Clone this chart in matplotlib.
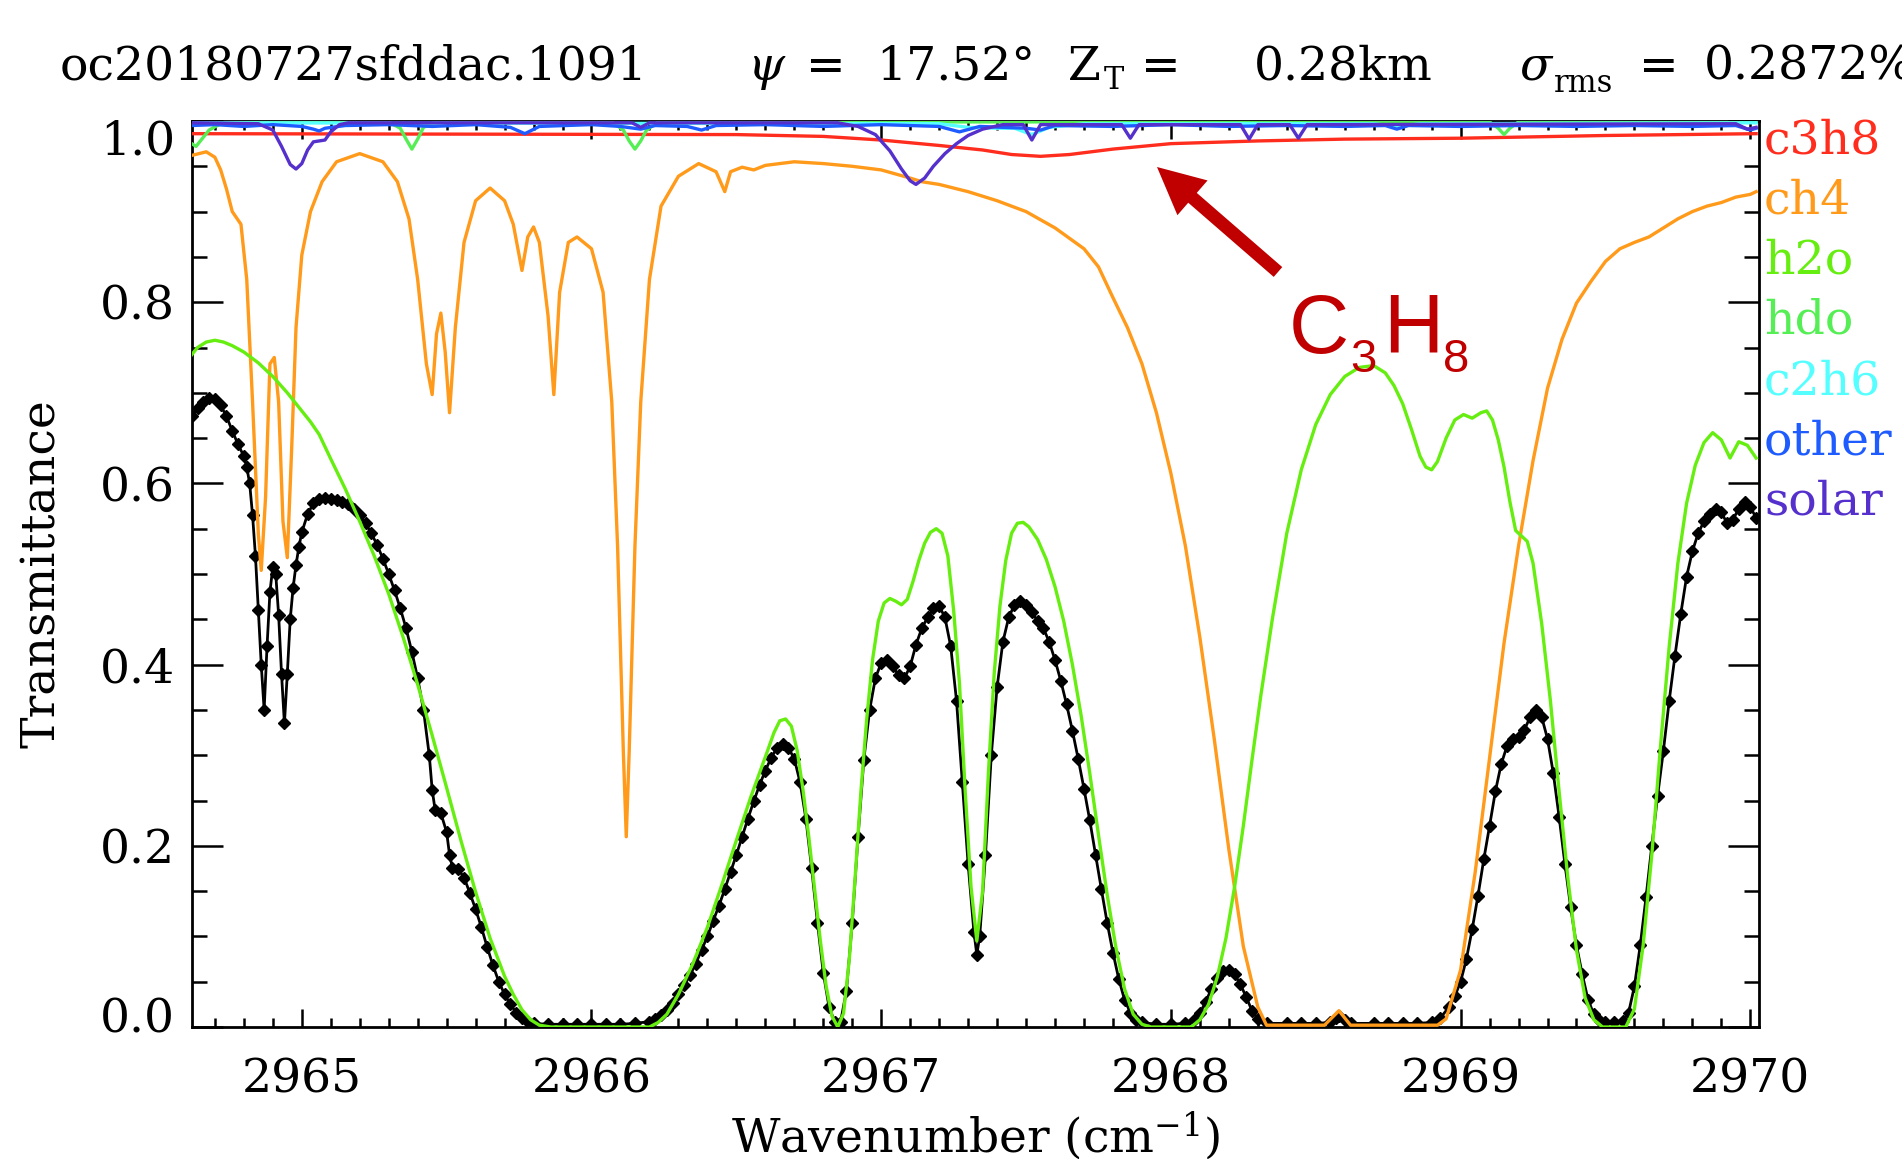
import matplotlib
matplotlib.use("Agg")
import matplotlib.pyplot as plt
import numpy as np
from matplotlib.ticker import MultipleLocator
from matplotlib.patches import FancyArrowPatch
from matplotlib.transforms import ScaledTranslation

# ---- data ----
# measured spectrum (black diamonds)
obs_wn = [2964.62, 2964.64, 2964.66, 2964.68, 2964.70, 2964.72, 2964.74, 2964.76, 2964.78, 2964.80,
          2964.81, 2964.82, 2964.83, 2964.84, 2964.85, 2964.86, 2964.87, 2964.88, 2964.89, 2964.90,
          2964.91, 2964.92, 2964.93, 2964.94, 2964.95, 2964.96, 2964.97, 2964.98, 2964.99, 2965.00,
          2965.02, 2965.04, 2965.06, 2965.08, 2965.10, 2965.12, 2965.14, 2965.16, 2965.18, 2965.20,
          2965.22, 2965.24, 2965.26, 2965.28, 2965.30, 2965.32, 2965.34, 2965.36, 2965.38, 2965.40,
          2965.42, 2965.44, 2965.45, 2965.46, 2965.48, 2965.50, 2965.51, 2965.52, 2965.54, 2965.56,
          2965.58, 2965.60, 2965.62, 2965.64, 2965.66, 2965.68, 2965.70, 2965.72, 2965.74, 2965.76,
          2965.78, 2965.80, 2965.85, 2965.90, 2965.95, 2966.00, 2966.05, 2966.10, 2966.15, 2966.20,
          2966.22, 2966.24, 2966.26, 2966.28, 2966.30, 2966.32, 2966.34, 2966.36, 2966.38, 2966.40,
          2966.42, 2966.44, 2966.46, 2966.48, 2966.50, 2966.52, 2966.54, 2966.56, 2966.58, 2966.60,
          2966.62, 2966.64, 2966.66, 2966.68, 2966.70, 2966.72, 2966.74, 2966.76, 2966.78, 2966.80,
          2966.82, 2966.84, 2966.85, 2966.86, 2966.88, 2966.90, 2966.92, 2966.94, 2966.96, 2966.98,
          2967.00, 2967.02, 2967.04, 2967.06, 2967.08, 2967.10, 2967.12, 2967.14, 2967.16, 2967.18,
          2967.20, 2967.22, 2967.24, 2967.26, 2967.28, 2967.30, 2967.32, 2967.33, 2967.34, 2967.36,
          2967.38, 2967.40, 2967.42, 2967.44, 2967.46, 2967.48, 2967.50, 2967.52, 2967.54, 2967.56,
          2967.58, 2967.60, 2967.62, 2967.64, 2967.66, 2967.68, 2967.70, 2967.72, 2967.74, 2967.76,
          2967.78, 2967.80, 2967.82, 2967.84, 2967.86, 2967.88, 2967.90, 2967.95, 2968.00, 2968.05,
          2968.08, 2968.10, 2968.12, 2968.14, 2968.16, 2968.18, 2968.20, 2968.22, 2968.24, 2968.26,
          2968.28, 2968.30, 2968.33, 2968.40, 2968.45, 2968.50, 2968.55, 2968.57, 2968.58, 2968.60,
          2968.62, 2968.70, 2968.75, 2968.80, 2968.85, 2968.90, 2968.93, 2968.96, 2968.98, 2969.00,
          2969.02, 2969.04, 2969.06, 2969.08, 2969.10, 2969.12, 2969.14, 2969.16, 2969.18, 2969.20,
          2969.22, 2969.24, 2969.26, 2969.28, 2969.30, 2969.32, 2969.34, 2969.36, 2969.38, 2969.40,
          2969.42, 2969.44, 2969.46, 2969.48, 2969.50, 2969.53, 2969.56, 2969.58, 2969.60, 2969.62,
          2969.64, 2969.66, 2969.68, 2969.70, 2969.72, 2969.74, 2969.76, 2969.78, 2969.80, 2969.82,
          2969.84, 2969.86, 2969.88, 2969.90, 2969.92, 2969.94, 2969.96, 2969.98, 2970.00, 2970.02]
obs_tr = [0.674, 0.683, 0.690, 0.694, 0.693, 0.686, 0.674, 0.658, 0.643, 0.630,
          0.618, 0.600, 0.565, 0.520, 0.460, 0.400, 0.350, 0.420, 0.480, 0.508,
          0.500, 0.455, 0.390, 0.335, 0.390, 0.450, 0.485, 0.510, 0.530, 0.546,
          0.566, 0.578, 0.583, 0.584, 0.583, 0.582, 0.580, 0.577, 0.572, 0.565,
          0.556, 0.545, 0.532, 0.517, 0.500, 0.482, 0.462, 0.440, 0.414, 0.385,
          0.350, 0.300, 0.262, 0.240, 0.236, 0.215, 0.190, 0.176, 0.174, 0.165,
          0.148, 0.130, 0.110, 0.088, 0.068, 0.050, 0.036, 0.025, 0.016, 0.010,
          0.006, 0.004, 0.003, 0.003, 0.003, 0.003, 0.003, 0.003, 0.004, 0.006,
          0.009, 0.013, 0.019, 0.026, 0.036, 0.046, 0.057, 0.070, 0.085, 0.100,
          0.117, 0.134, 0.152, 0.171, 0.190, 0.210, 0.230, 0.249, 0.267, 0.283,
          0.297, 0.308, 0.312, 0.308, 0.296, 0.270, 0.230, 0.175, 0.115, 0.060,
          0.022, 0.005, 0.002, 0.006, 0.040, 0.115, 0.210, 0.295, 0.350, 0.385,
          0.402, 0.405, 0.398, 0.388, 0.385, 0.398, 0.422, 0.440, 0.452, 0.462,
          0.465, 0.452, 0.420, 0.360, 0.270, 0.180, 0.105, 0.080, 0.100, 0.190,
          0.300, 0.375, 0.425, 0.452, 0.466, 0.470, 0.466, 0.458, 0.448, 0.440,
          0.425, 0.405, 0.382, 0.356, 0.327, 0.296, 0.263, 0.228, 0.190, 0.152,
          0.115, 0.082, 0.053, 0.030, 0.016, 0.008, 0.005, 0.003, 0.003, 0.004,
          0.008, 0.015, 0.028, 0.042, 0.054, 0.062, 0.063, 0.058, 0.047, 0.033,
          0.018, 0.009, 0.004, 0.004, 0.004, 0.004, 0.005, 0.010, 0.012, 0.008,
          0.004, 0.004, 0.004, 0.004, 0.004, 0.005, 0.010, 0.022, 0.034, 0.050,
          0.075, 0.108, 0.145, 0.185, 0.222, 0.260, 0.290, 0.310, 0.318, 0.320,
          0.328, 0.342, 0.350, 0.342, 0.318, 0.280, 0.232, 0.180, 0.132, 0.090,
          0.058, 0.030, 0.014, 0.007, 0.005, 0.005, 0.007, 0.016, 0.045, 0.090,
          0.143, 0.200, 0.255, 0.305, 0.360, 0.410, 0.456, 0.497, 0.525, 0.545,
          0.558, 0.566, 0.572, 0.568, 0.556, 0.560, 0.572, 0.580, 0.574, 0.562]

# h2o transmittance
h2o_wn = [2964.62, 2964.64, 2964.67, 2964.70, 2964.73, 2964.76, 2964.80, 2964.85, 2964.90, 2964.95,
          2965.00, 2965.03, 2965.06, 2965.10, 2965.15, 2965.20, 2965.25, 2965.30, 2965.35, 2965.40,
          2965.45, 2965.50, 2965.55, 2965.60, 2965.65, 2965.70, 2965.73, 2965.76, 2965.79, 2965.82,
          2965.86, 2966.20, 2966.23, 2966.26, 2966.30, 2966.35, 2966.40, 2966.45, 2966.50, 2966.55,
          2966.60, 2966.63, 2966.65, 2966.67, 2966.69, 2966.71, 2966.73, 2966.75, 2966.77, 2966.79,
          2966.81, 2966.83, 2966.85, 2966.87, 2966.89, 2966.91, 2966.93, 2966.95, 2966.97, 2966.99,
          2967.01, 2967.03, 2967.05, 2967.07, 2967.09, 2967.11, 2967.13, 2967.15, 2967.17, 2967.19,
          2967.21, 2967.23, 2967.25, 2967.27, 2967.29, 2967.31, 2967.33, 2967.35, 2967.37, 2967.39,
          2967.41, 2967.43, 2967.45, 2967.47, 2967.49, 2967.51, 2967.54, 2967.57, 2967.60, 2967.63,
          2967.66, 2967.69, 2967.72, 2967.75, 2967.78, 2967.81, 2967.84, 2967.87, 2967.90, 2967.93,
          2968.07, 2968.10, 2968.13, 2968.16, 2968.19, 2968.22, 2968.25, 2968.28, 2968.31, 2968.35,
          2968.40, 2968.45, 2968.50, 2968.55, 2968.60, 2968.65, 2968.70, 2968.74, 2968.77, 2968.80,
          2968.83, 2968.86, 2968.88, 2968.90, 2968.92, 2968.95, 2968.98, 2969.01, 2969.04, 2969.07,
          2969.09, 2969.11, 2969.13, 2969.15, 2969.17, 2969.19, 2969.21, 2969.23, 2969.25, 2969.28,
          2969.31, 2969.34, 2969.37, 2969.40, 2969.43, 2969.46, 2969.49, 2969.57, 2969.60, 2969.63,
          2969.66, 2969.69, 2969.72, 2969.75, 2969.78, 2969.81, 2969.84, 2969.87, 2969.90, 2969.93,
          2969.96, 2969.99, 2970.02]
h2o_tr = [0.742, 0.750, 0.756, 0.758, 0.756, 0.752, 0.745, 0.733, 0.718, 0.700,
          0.680, 0.668, 0.654, 0.627, 0.594, 0.558, 0.520, 0.478, 0.430, 0.378,
          0.322, 0.264, 0.205, 0.149, 0.098, 0.056, 0.036, 0.019, 0.008, 0.002,
          0.000, 0.000, 0.005, 0.014, 0.036, 0.070, 0.110, 0.157, 0.206, 0.254,
          0.298, 0.325, 0.338, 0.340, 0.332, 0.305, 0.262, 0.210, 0.152, 0.095,
          0.045, 0.012, 0.000, 0.015, 0.075, 0.165, 0.260, 0.340, 0.405, 0.448,
          0.468, 0.473, 0.470, 0.466, 0.472, 0.492, 0.515, 0.534, 0.546, 0.550,
          0.545, 0.520, 0.460, 0.380, 0.260, 0.155, 0.095, 0.150, 0.280, 0.390,
          0.465, 0.515, 0.545, 0.556, 0.557, 0.552, 0.538, 0.516, 0.486, 0.448,
          0.400, 0.344, 0.280, 0.212, 0.146, 0.088, 0.042, 0.014, 0.003, 0.000,
          0.000, 0.008, 0.025, 0.055, 0.098, 0.155, 0.222, 0.295, 0.365, 0.450,
          0.545, 0.615, 0.665, 0.698, 0.718, 0.728, 0.730, 0.722, 0.708, 0.688,
          0.660, 0.630, 0.618, 0.615, 0.624, 0.650, 0.670, 0.676, 0.672, 0.678,
          0.680, 0.670, 0.648, 0.618, 0.580, 0.548, 0.542, 0.536, 0.512, 0.445,
          0.360, 0.260, 0.165, 0.085, 0.032, 0.008, 0.000, 0.000, 0.020, 0.090,
          0.190, 0.310, 0.420, 0.512, 0.578, 0.620, 0.645, 0.656, 0.648, 0.628,
          0.646, 0.642, 0.628]

# ch4 transmittance
ch4_wn = [2964.62, 2964.67, 2964.70, 2964.72, 2964.74, 2964.76, 2964.79, 2964.81, 2964.83, 2964.85,
          2964.86, 2964.875, 2964.89, 2964.905, 2964.92, 2964.935, 2964.95, 2964.965, 2964.98, 2965.00,
          2965.03, 2965.07, 2965.12, 2965.20, 2965.28, 2965.33, 2965.37, 2965.40, 2965.43, 2965.45,
          2965.465, 2965.48, 2965.495, 2965.51, 2965.53, 2965.56, 2965.60, 2965.65, 2965.70, 2965.73,
          2965.76, 2965.78, 2965.80, 2965.82, 2965.85, 2965.87, 2965.89, 2965.92, 2965.95, 2966.00,
          2966.04, 2966.07, 2966.09, 2966.11, 2966.12, 2966.13, 2966.15, 2966.17, 2966.20, 2966.24,
          2966.30, 2966.37, 2966.43, 2966.46, 2966.48, 2966.52, 2966.56, 2966.60, 2966.70, 2966.80,
          2966.90, 2967.00, 2967.10, 2967.14, 2967.20, 2967.30, 2967.40, 2967.50, 2967.60, 2967.70,
          2967.75, 2967.80, 2967.85, 2967.90, 2967.95, 2968.00, 2968.05, 2968.10, 2968.15, 2968.20,
          2968.25, 2968.30, 2968.33, 2968.53, 2968.58, 2968.62, 2968.92, 2968.95, 2969.00, 2969.05,
          2969.10, 2969.15, 2969.20, 2969.25, 2969.30, 2969.35, 2969.40, 2969.45, 2969.50, 2969.55,
          2969.60, 2969.65, 2969.70, 2969.75, 2969.80, 2969.85, 2969.90, 2969.95, 2970.00, 2970.02]
ch4_tr = [0.962, 0.966, 0.960, 0.946, 0.925, 0.900, 0.886, 0.825, 0.690, 0.544,
          0.504, 0.585, 0.732, 0.739, 0.690, 0.558, 0.518, 0.638, 0.772, 0.852,
          0.900, 0.933, 0.955, 0.964, 0.955, 0.933, 0.892, 0.825, 0.732, 0.698,
          0.765, 0.788, 0.745, 0.678, 0.772, 0.866, 0.912, 0.926, 0.912, 0.886,
          0.835, 0.872, 0.883, 0.866, 0.785, 0.698, 0.811, 0.866, 0.872, 0.859,
          0.811, 0.690, 0.531, 0.303, 0.210, 0.303, 0.531, 0.690, 0.825, 0.906,
          0.939, 0.953, 0.944, 0.922, 0.944, 0.949, 0.946, 0.951, 0.955, 0.953,
          0.950, 0.946, 0.937, 0.933, 0.930, 0.922, 0.912, 0.900, 0.882, 0.859,
          0.839, 0.805, 0.772, 0.732, 0.678, 0.611, 0.531, 0.430, 0.317, 0.196,
          0.089, 0.022, 0.002, 0.002, 0.018, 0.002, 0.002, 0.009, 0.063, 0.170,
          0.297, 0.424, 0.531, 0.625, 0.705, 0.759, 0.799, 0.823, 0.845, 0.859,
          0.866, 0.872, 0.882, 0.892, 0.900, 0.906, 0.910, 0.916, 0.919, 0.922]

# c3h8 transmittance
c3h8_wn = [2964.62, 2966.50, 2966.80, 2967.00, 2967.20, 2967.35, 2967.45, 2967.55, 2967.65, 2967.80,
           2968.00, 2968.30, 2968.60, 2969.00, 2969.50, 2970.02]
c3h8_tr = [0.986, 0.985, 0.983, 0.979, 0.973, 0.968, 0.963, 0.961, 0.963, 0.969,
           0.975, 0.978, 0.980, 0.981, 0.984, 0.986]

# hdo transmittance
hdo_wn = [2964.62, 2964.635, 2964.65, 2964.68, 2964.72, 2964.80, 2965.30, 2965.34, 2965.36, 2965.38,
          2965.40, 2965.42, 2965.46, 2966.07, 2966.11, 2966.13, 2966.15, 2966.17, 2966.19, 2966.23,
          2969.10, 2969.13, 2969.15, 2969.17, 2969.20, 2970.02]
hdo_tr = [0.975, 0.972, 0.978, 0.990, 0.997, 0.999, 0.999, 0.992, 0.980, 0.969,
          0.980, 0.993, 0.999, 0.999, 0.990, 0.978, 0.969, 0.978, 0.990, 0.999,
          0.999, 0.992, 0.985, 0.992, 0.999, 0.999]

# c2h6 transmittance
c2h6_wn = [2964.62, 2967.20, 2967.30, 2967.40, 2967.46, 2967.52, 2967.58, 2967.70, 2968.70, 2968.78,
           2968.86, 2970.02]
c2h6_tr = [0.998, 0.997, 0.993, 0.992, 0.992, 0.985, 0.993, 0.997, 0.997, 0.994,
           0.997, 0.998]

# other gases
other_wn = [2964.62, 2964.70, 2964.80, 2964.90, 2965.00, 2965.04, 2965.06, 2965.08, 2965.15, 2965.30,
            2965.45, 2965.60, 2965.72, 2965.77, 2965.82, 2966.00, 2966.10, 2966.17, 2966.22, 2966.33,
            2966.38, 2966.43, 2966.60, 2966.80, 2967.00, 2967.20, 2967.27, 2967.34, 2967.50, 2967.55,
            2967.60, 2967.80, 2968.00, 2968.20, 2968.40, 2968.60, 2968.74, 2968.78, 2968.82, 2969.00,
            2969.20, 2969.40, 2969.60, 2969.80, 2969.95, 2970.00, 2970.02]
other_tr = [0.995, 0.996, 0.994, 0.996, 0.994, 0.991, 0.989, 0.992, 0.995, 0.996,
            0.994, 0.996, 0.993, 0.986, 0.994, 0.996, 0.994, 0.991, 0.995, 0.994,
            0.990, 0.995, 0.996, 0.994, 0.996, 0.994, 0.988, 0.994, 0.992, 0.990,
            0.995, 0.994, 0.996, 0.994, 0.995, 0.994, 0.995, 0.991, 0.995, 0.994,
            0.995, 0.994, 0.995, 0.994, 0.995, 0.990, 0.992]

# solar spectrum
solar_wn = [2964.62, 2964.85, 2964.90, 2964.93, 2964.96, 2964.98, 2965.00, 2965.02, 2965.04, 2965.06,
            2965.08, 2965.10, 2965.13, 2965.16, 2966.14, 2966.17, 2966.20, 2966.85, 2966.92, 2966.98,
            2967.03, 2967.07, 2967.10, 2967.12, 2967.15, 2967.18, 2967.22, 2967.26, 2967.30, 2967.35,
            2967.42, 2967.49, 2967.52, 2967.55, 2967.83, 2967.86, 2967.89, 2968.24, 2968.27, 2968.30,
            2968.41, 2968.44, 2968.47, 2969.95, 2969.99, 2970.02]
solar_tr = [0.998, 0.997, 0.990, 0.972, 0.952, 0.947, 0.953, 0.968, 0.977, 0.978,
            0.979, 0.988, 0.996, 0.998, 0.998, 0.993, 0.998, 0.998, 0.994, 0.985,
            0.967, 0.947, 0.934, 0.930, 0.937, 0.950, 0.964, 0.975, 0.984, 0.991,
            0.996, 0.996, 0.979, 0.996, 0.996, 0.981, 0.996, 0.996, 0.980, 0.996,
            0.996, 0.981, 0.996, 0.997, 0.991, 0.993]

gas_names = ["c3h8", "ch4", "h2o", "hdo", "c2h6", "other", "solar"]
gas_colors = ["#ff2d1e", "#ff9a1a", "#66ee11", "#55ee55", "#55ffff", "#1f5cff", "#5530cc"]
gas_series = [(c3h8_wn, c3h8_tr), (ch4_wn, ch4_tr), (h2o_wn, h2o_tr), (hdo_wn, hdo_tr),
              (c2h6_wn, c2h6_tr), (other_wn, other_tr), (solar_wn, solar_tr)]

xtick_vals = [2965, 2966, 2967, 2968, 2969, 2970]
xtick_labels = ["2965", "2966", "2967", "2968", "2969", "2970"]
ytick_vals = [0.0, 0.2, 0.4, 0.6, 0.8, 1.0]
ytick_labels = ["0.0", "0.2", "0.4", "0.6", "0.8", "1.0"]

title_parts = ["oc20180727sfddac.1091", "\u03c8", "=", "17.52\u00b0", "Z", "T", "=",
               "0.28km", "\u03c3", "rms", "=", "0.2872%"]

# ---- fonts ----
plt.rcParams["font.family"] = ["DejaVu Serif"]
plt.rcParams["mathtext.fontset"] = "dejavuserif"
FS = 34

W, H = 1902, 1159
fig = plt.figure(figsize=(W / 100, H / 100), dpi=100)
ax = fig.add_axes([192 / W, 1 - 1027 / H, (1759 - 192) / W, (1027 - 121) / H])

# measured spectrum
ax.plot(obs_wn, obs_tr, color="black", lw=2.0, marker="D", markersize=6.5,
        markerfacecolor="black", markeredgecolor="black", zorder=2)

# gas transmittances
for (wn, tr), c in zip(gas_series, gas_colors):
    ax.plot(wn, tr, color=c, lw=2.4, zorder=3)

ax.set_xlim(2964.621, 2970.03)
ax.set_ylim(0, 1.0)

ax.set_xticks(xtick_vals)
ax.set_xticklabels(xtick_labels)
ax.set_yticks(ytick_vals)
ax.set_yticklabels(ytick_labels)
ax.xaxis.set_minor_locator(MultipleLocator(0.1))
ax.yaxis.set_minor_locator(MultipleLocator(0.05))

for s in ax.spines.values():
    s.set_linewidth(2.0)
ax.tick_params(which="both", direction="in", top=True, right=True, width=1.8,
               labelsize=FS)
ax.tick_params(axis="x", which="major", length=13, pad=22)
ax.tick_params(axis="x", which="minor", length=6.5)
ax.tick_params(axis="y", which="major", length=22, pad=12)
ax.tick_params(axis="y", which="minor", length=11)

# IDL pushes the end labels inside the axis range
ylabs = ax.get_yticklabels()
ylabs[-1].set_transform(ylabs[-1].get_transform() + ScaledTranslation(0, -0.16, fig.dpi_scale_trans))
ylabs[0].set_transform(ylabs[0].get_transform() + ScaledTranslation(0, 0.12, fig.dpi_scale_trans))

ax.set_xlabel("Wavenumber (cm$^{-1}$)", fontsize=FS)
ax.xaxis.set_label_coords(0.5, (1027 - 1152) / 906)
ax.xaxis.label.set_va("baseline")
ax.set_ylabel("Transmittance", fontsize=FS)
ax.yaxis.set_label_coords((42 - 192) / 1567, 0.5)
ax.yaxis.label.set_va("center")

# title pieces (IDL layout), positions in pixels from top-left
def ftext(x, y, s, **kw):
    fig.text(x / W, 1 - y / H, s, va="baseline", ha="left", **kw)

title_x = [60, 748, 806, 876, 1068, 1104, 1141, 1254, 1520, 1554, 1639, 1704]
title_y = [80, 80, 80, 80, 80, 89, 80, 80, 80, 92, 80, 80]
title_fs = [FS, FS, FS, FS, FS, 22, FS, FS, FS, 22, FS, FS]
title_style = ["normal", "italic", "normal", "normal", "normal", "normal", "normal",
               "normal", "italic", "normal", "normal", "normal"]
for s, x, y, f, st in zip(title_parts, title_x, title_y, title_fs, title_style):
    ftext(x, y, s, fontsize=f, style=st, color="black")

# gas labels on the right
for i, (name, c) in enumerate(zip(gas_names, gas_colors)):
    ftext(1764, 153 + 60.3 * i, name, fontsize=FS, color=c)

# C3H8 annotation
red = "#c00000"
arrow = FancyArrowPatch(posA=(1278 / W, 1 - 272 / H), posB=(1157 / W, 1 - 167 / H),
                        transform=fig.transFigure,
                        arrowstyle="simple,head_length=0.47,head_width=0.46,tail_width=0.13",
                        mutation_scale=72, color=red, shrinkA=0, shrinkB=0, lw=0)
fig.patches.append(arrow)
sans = ["Liberation Sans", "DejaVu Sans"]
ftext(1289, 353, "C", fontsize=60, color=red, family=sans)
ftext(1350, 372, "3", fontsize=34, color=red, family=sans)
ftext(1383, 353, "H", fontsize=60, color=red, family=sans)
ftext(1443, 372, "8", fontsize=34, color=red, family=sans)

fig.savefig("out.png", dpi=100)
